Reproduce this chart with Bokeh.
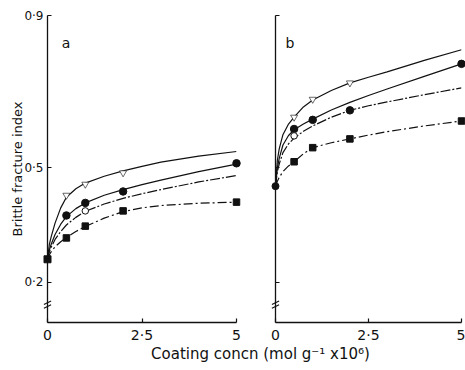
from bokeh.plotting import figure
from bokeh.layouts import column, row
from bokeh.models import Range1d, FixedTicker, Label
from bokeh.embed import file_html
from bokeh.resources import INLINE

# ---------------- data ----------------
curve_x = [0, 0.05, 0.1, 0.2, 0.35, 0.5, 0.75, 1, 1.5, 2, 2.5, 3, 4, 5]

# panel a fitted curves
a_c1 = [0.26, 0.30, 0.32, 0.355, 0.395, 0.423, 0.445, 0.46, 0.478, 0.492, 0.504, 0.515, 0.531, 0.543]
a_c2 = [0.26, 0.285, 0.30, 0.325, 0.352, 0.372, 0.393, 0.408, 0.428, 0.443, 0.456, 0.468, 0.49, 0.51]
a_c3 = [0.26, 0.28, 0.292, 0.312, 0.333, 0.35, 0.37, 0.386, 0.405, 0.42, 0.432, 0.443, 0.463, 0.48]
a_c4 = [0.26, 0.272, 0.28, 0.293, 0.306, 0.317, 0.333, 0.346, 0.368, 0.385, 0.395, 0.401, 0.407, 0.41]

# panel b fitted curves
b_c1 = [0.452, 0.52, 0.55, 0.587, 0.615, 0.633, 0.66, 0.678, 0.703, 0.723, 0.738, 0.752, 0.782, 0.81]
b_c2 = [0.452, 0.50, 0.525, 0.56, 0.585, 0.60, 0.615, 0.628, 0.652, 0.672, 0.69, 0.707, 0.74, 0.773]
b_c3 = [0.452, 0.49, 0.51, 0.54, 0.563, 0.578, 0.596, 0.61, 0.633, 0.651, 0.663, 0.673, 0.692, 0.71]
b_c4 = [0.452, 0.465, 0.475, 0.49, 0.505, 0.516, 0.537, 0.553, 0.566, 0.576, 0.586, 0.595, 0.61, 0.623]

# measured points
tri_x = [0.5, 1, 2]
a_tri = [0.428, 0.457, 0.487]
b_tri = [0.633, 0.68, 0.723]

a_fc_x = [0.5, 1, 2, 5]
a_fc = [0.375, 0.408, 0.438, 0.512]
b_fc_x = [0.5, 1, 2, 5]
b_fc = [0.602, 0.626, 0.651, 0.773]

a_oc_x = [1]
a_oc = [0.387]
b_oc_x = [0.5]
b_oc = [0.584]

sq_x = [0.5, 1, 2, 5]
a_sq = [0.316, 0.347, 0.387, 0.41]
b_sq = [0.516, 0.553, 0.576, 0.623]

a_start = [0.26]
b_start = [0.452]

y_ticks = [0.2, 0.5, 0.9]
y_tick_labels = ["0·2", "0·5", "0·9"]
x_ticks = [0, 2.5, 5]
x_tick_labels = ["0", "2·5", "5"]
break_y = [0.146, 0.136]

y_title = "Brittle fracture index"
x_title = "Coating concn (mol g⁻¹ x10⁶)"

FONT = "DejaVu Sans"
INK = "#111111"


def panel(frame_w, bl, br, letter, letter_x, curves, tri, fc_x, fc, oc_x, oc, sq, start, start_marker, show_ylabels):
    p = figure(frame_width=frame_w, frame_height=307,
               x_range=Range1d(0, 5), y_range=Range1d(0.094, 0.9),
               output_backend="svg", toolbar_location=None)
    p.min_border_left = bl
    p.min_border_right = br
    p.min_border_top = 15
    p.min_border_bottom = 22
    p.outline_line_color = None
    p.xgrid.visible = False
    p.ygrid.visible = False
    p.background_fill_color = "white"
    p.border_fill_color = "white"

    xa = p.xaxis[0]
    xa.ticker = FixedTicker(ticks=x_ticks)
    xa.major_label_overrides = dict(zip(x_ticks, x_tick_labels))
    ya = p.yaxis[0]
    ya.ticker = FixedTicker(ticks=y_ticks)
    for ax in (xa, ya):
        ax.axis_line_color = INK
        ax.axis_line_width = 1.3
        ax.major_tick_line_color = INK
        ax.major_tick_line_width = 1.2
        ax.major_tick_in = 4
        ax.major_tick_out = 0
        ax.minor_tick_line_color = None
        ax.major_label_text_font = FONT
        ax.major_label_text_color = INK
    xa.major_label_text_font_size = "14px"
    xa.major_label_standoff = 4
    ya.major_label_standoff = 4
    ya.major_label_text_font_size = "12px"
    if show_ylabels:
        ya.major_label_overrides = dict(zip(y_ticks, y_tick_labels))
        ya.axis_label = y_title
        ya.axis_label_text_font = FONT
        ya.axis_label_text_font_size = "13px"
        ya.axis_label_text_font_style = "normal"
        ya.axis_label_text_color = INK
        ya.axis_label_standoff = -4
    else:
        ya.major_label_overrides = {t: "" for t in y_ticks}
        ya.major_label_standoff = 0

    dashes = ["solid", "solid", "10 2 2 2", "9 3 2 3"]
    for ys, d in zip(curves, dashes):
        p.line(curve_x, ys, line_color=INK, line_width=1.2, line_dash=d)

    p.scatter(tri_x, tri, marker="inverted_triangle", size=7, fill_color="white",
              line_color=INK, line_width=0.9, line_alpha=0.7, level="overlay")
    p.scatter(fc_x, fc, marker="circle", size=7.5, fill_color=INK, line_color=INK, level="overlay")
    p.scatter(oc_x, oc, marker="circle", size=6.5, fill_color="white", line_color=INK,
              line_width=1, level="overlay")
    p.scatter(sq_x, sq, marker="square", size=6.5, fill_color=INK, line_color=INK, level="overlay")
    p.scatter([0], start, marker=start_marker, size=7, fill_color=INK, line_color=INK, level="overlay")
    p.scatter([0] * len(break_y), break_y, marker="dash", size=8, angle=0.45,
              line_color=INK, line_width=1.1, level="overlay")

    p.add_layout(Label(x=letter_x, y=0.828, text=letter, text_font=FONT, text_font_size="14px",
                       text_color=INK, text_align="center", text_baseline="middle"))
    return p


pa = panel(189, 47, 19, "a", 0.49, [a_c1, a_c2, a_c3, a_c4], a_tri, a_fc_x, a_fc,
           a_oc_x, a_oc, a_sq, a_start, "square", True)
pb = panel(186, 20, 4, "b", 0.39, [b_c1, b_c2, b_c3, b_c4], b_tri, b_fc_x, b_fc,
           b_oc_x, b_oc, b_sq, b_start, "circle", False)

# bottom strip holding the shared x title
pl = figure(width=465, height=26, x_range=Range1d(0, 465), y_range=Range1d(0, 26),
            output_backend="svg", toolbar_location=None,
            x_axis_location=None, y_axis_location=None)
pl.min_border = 0
pl.outline_line_color = None
pl.xgrid.visible = False
pl.ygrid.visible = False
pl.add_layout(Label(x=260, y=18, text=x_title, text_font=FONT,
                    text_font_size="15px", text_color=INK, text_align="center",
                    text_baseline="middle"))

layout = column(row(pa, pb, spacing=0), pl, spacing=0)

with open("out.html", "w") as f:
    f.write(file_html(layout, INLINE))
